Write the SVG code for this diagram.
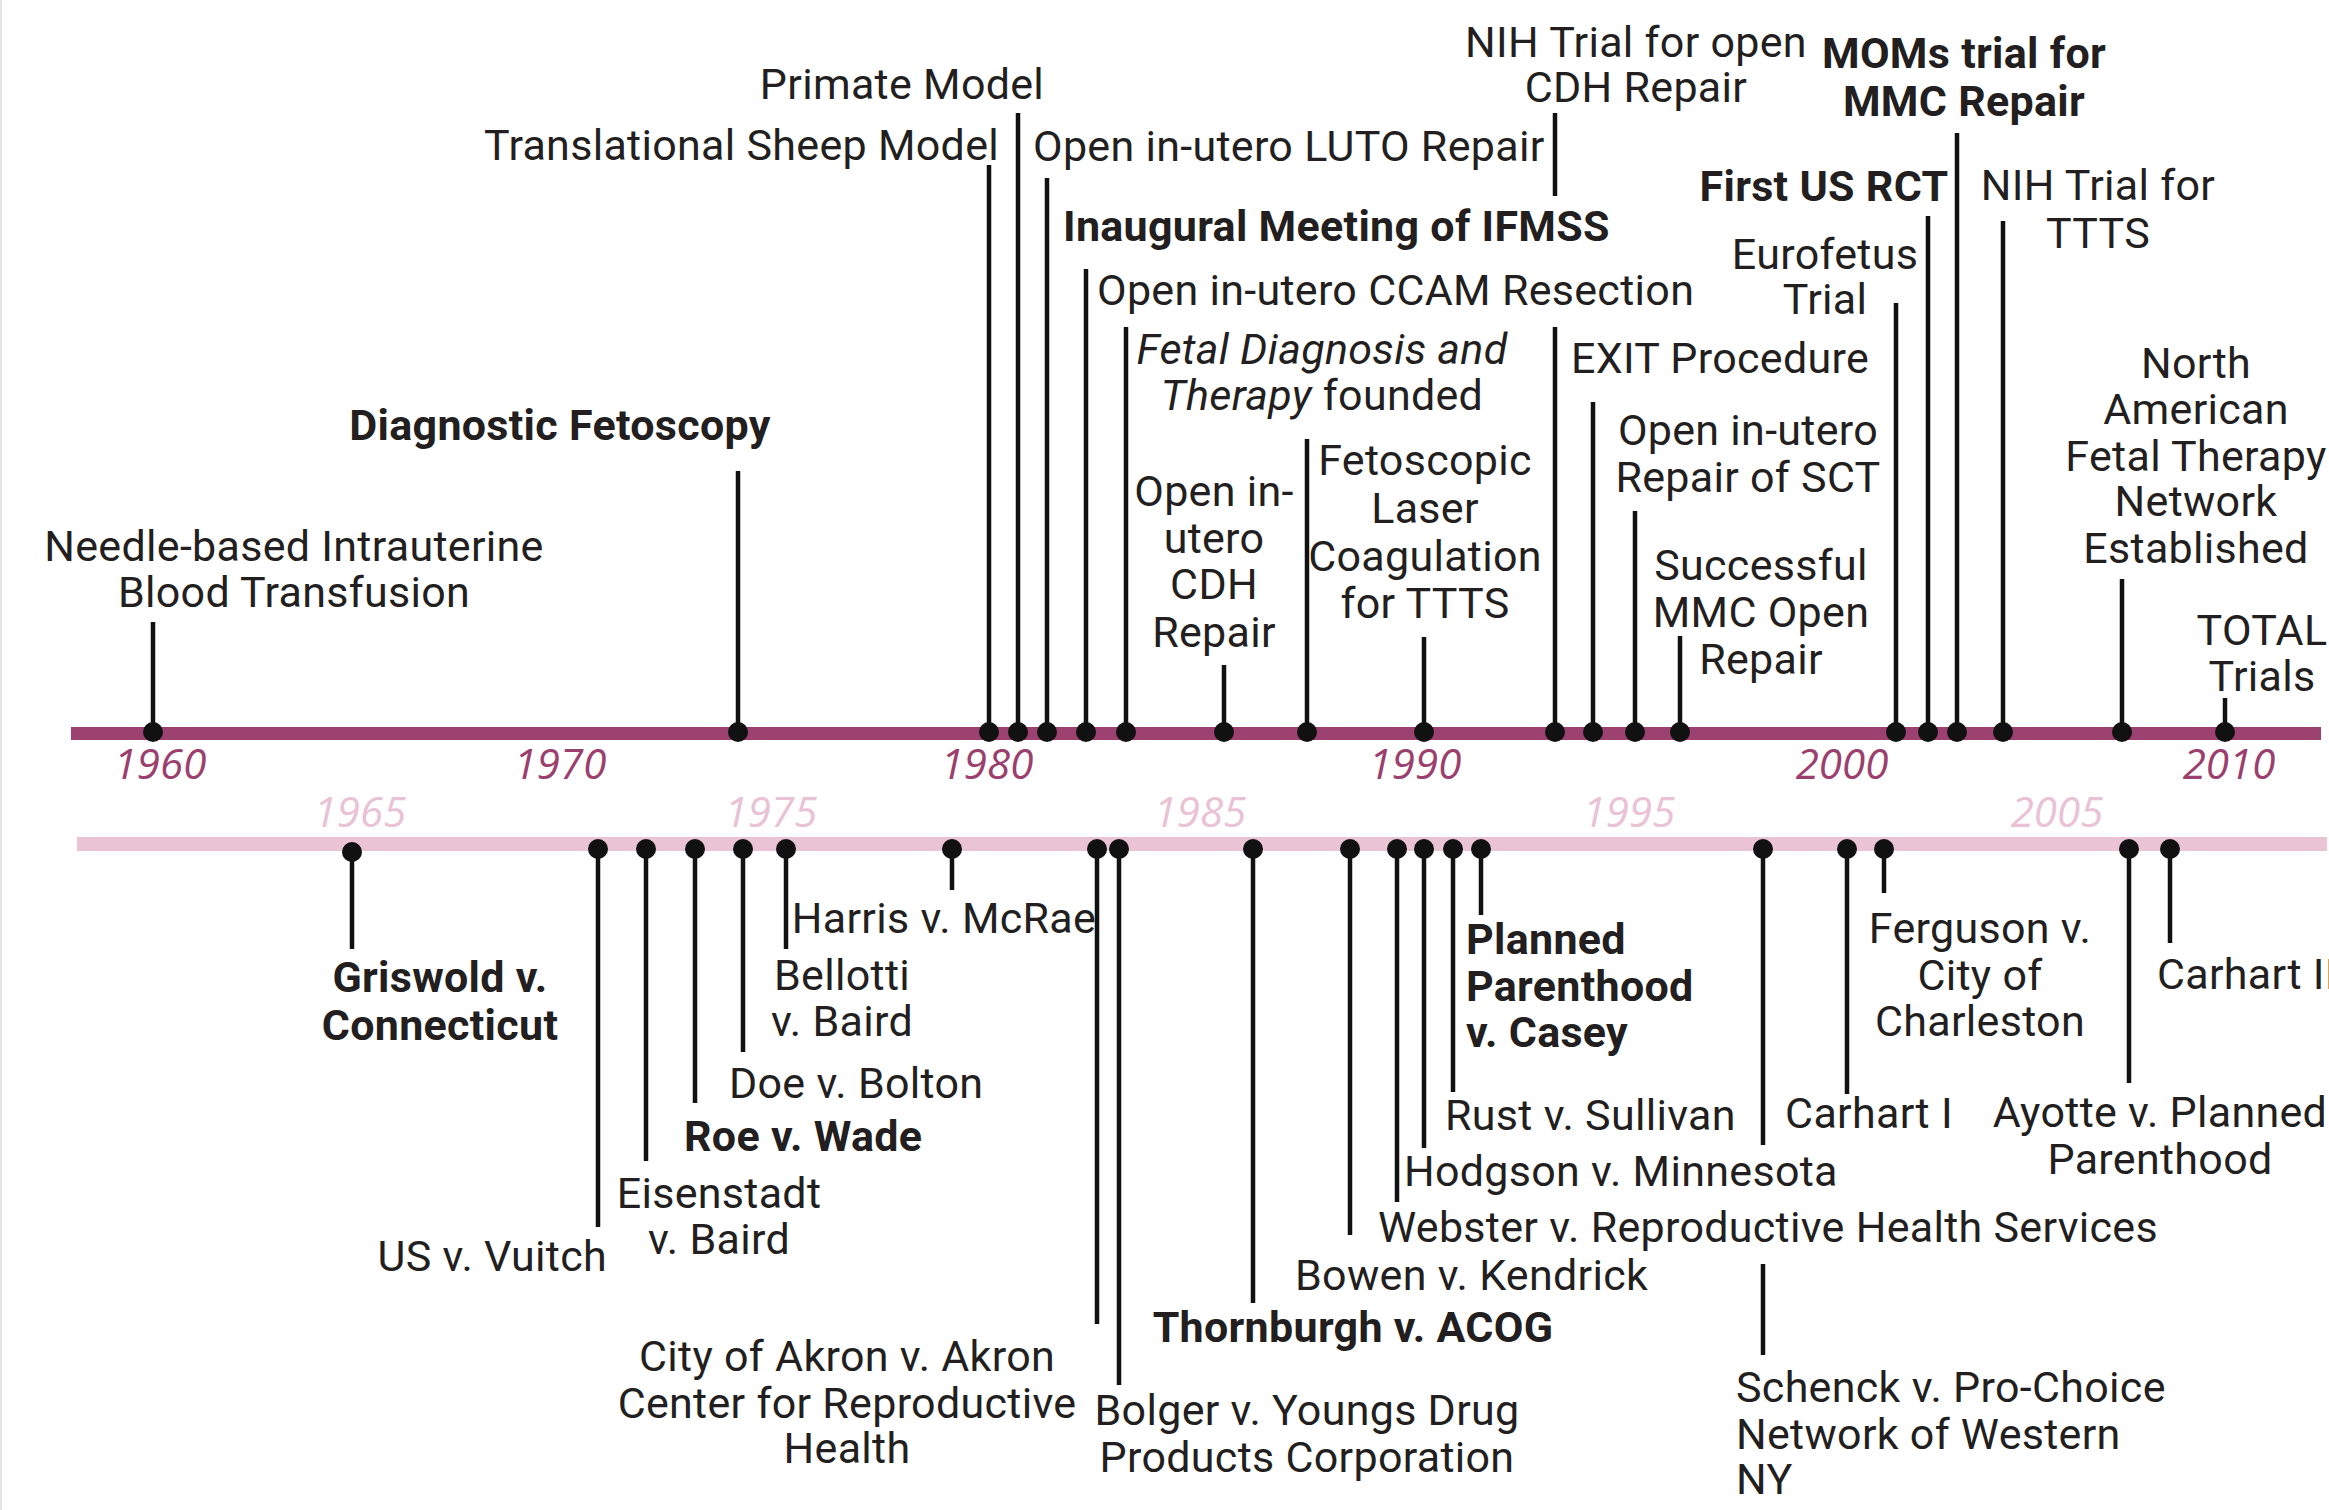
<svg xmlns="http://www.w3.org/2000/svg" width="2329" height="1510" viewBox="0 0 2329 1510">
<style>
text{font-family:Roboto,"Liberation Sans",sans-serif;font-size:43px;letter-spacing:0.3px;fill:#231f20}
.b{font-weight:bold}
.i{font-style:italic}
.m{text-anchor:middle}
.e{text-anchor:end}
.yt,.yb{font-family:"Open Sans",Roboto,sans-serif;font-style:italic;font-size:42px;letter-spacing:0;text-anchor:middle}
.yt{fill:#9b3f6e}
.yb{fill:#eac2d5}
.stem{stroke:#111;stroke-width:4.5;fill:none}
.dot{fill:#111}
</style>
<rect x="0" y="0" width="2329" height="1510" fill="#fff"/>
<line x1="1" y1="0" x2="1" y2="1510" stroke="#e4e4e4" stroke-width="2"/>
<g id="axes">
<rect x="71" y="727" width="2250" height="13" fill="#9c4170"/>
<rect x="77" y="837" width="2250" height="14" fill="#eac3d5"/>
<text class="yt" x="160" y="779">1960</text>
<text class="yt" x="560" y="779">1970</text>
<text class="yt" x="987" y="779">1980</text>
<text class="yt" x="1415" y="779">1990</text>
<text class="yt" x="1842" y="779">2000</text>
<text class="yt" x="2229" y="779">2010</text>
<text class="yb" x="360" y="827">1965</text>
<text class="yb" x="771" y="827">1975</text>
<text class="yb" x="1200" y="827">1985</text>
<text class="yb" x="1629" y="827">1995</text>
<text class="yb" x="2057" y="827">2005</text>
</g>
<g id="connectors" class="stem">
<line x1="153" y1="732" x2="153" y2="622"/>
<line x1="738" y1="732" x2="738" y2="471"/>
<line x1="989" y1="732" x2="989" y2="165"/>
<line x1="1018" y1="732" x2="1018" y2="113"/>
<line x1="1047" y1="732" x2="1047" y2="178"/>
<line x1="1086" y1="732" x2="1086" y2="269"/>
<line x1="1126" y1="732" x2="1126" y2="327"/>
<line x1="1224" y1="732" x2="1224" y2="665"/>
<line x1="1307" y1="732" x2="1307" y2="439"/>
<line x1="1424" y1="732" x2="1424" y2="637"/>
<line x1="1555" y1="732" x2="1555" y2="327"/>
<line x1="1555" y1="196" x2="1555" y2="113"/>
<line x1="1593" y1="732" x2="1593" y2="402"/>
<line x1="1635" y1="732" x2="1635" y2="511"/>
<line x1="1680" y1="732" x2="1680" y2="636"/>
<line x1="1896" y1="732" x2="1896" y2="303"/>
<line x1="1928" y1="732" x2="1928" y2="216"/>
<line x1="1957" y1="732" x2="1957" y2="133"/>
<line x1="2003" y1="732" x2="2003" y2="221"/>
<line x1="2122" y1="732" x2="2122" y2="579"/>
<line x1="2225" y1="732" x2="2225" y2="698"/>
<line x1="352" y1="852" x2="352" y2="949"/>
<line x1="598" y1="849" x2="598" y2="1227"/>
<line x1="646" y1="849" x2="646" y2="1161"/>
<line x1="695" y1="849" x2="695" y2="1103"/>
<line x1="743" y1="849" x2="743" y2="1052"/>
<line x1="786" y1="849" x2="786" y2="949"/>
<line x1="952" y1="849" x2="952" y2="890"/>
<line x1="1097" y1="849" x2="1097" y2="1324"/>
<line x1="1119" y1="849" x2="1119" y2="1385"/>
<line x1="1253" y1="849" x2="1253" y2="1303"/>
<line x1="1350" y1="849" x2="1350" y2="1235"/>
<line x1="1397" y1="849" x2="1397" y2="1202"/>
<line x1="1424" y1="849" x2="1424" y2="1148"/>
<line x1="1453" y1="849" x2="1453" y2="1092"/>
<line x1="1481" y1="849" x2="1481" y2="915"/>
<line x1="1763" y1="849" x2="1763" y2="1145"/>
<line x1="1763" y1="1264" x2="1763" y2="1355"/>
<line x1="1847" y1="849" x2="1847" y2="1094"/>
<line x1="1884" y1="849" x2="1884" y2="893"/>
<line x1="2129" y1="849" x2="2129" y2="1083"/>
<line x1="2170" y1="849" x2="2170" y2="943"/>
</g>
<g id="n-needle"><circle class="dot" cx="153" cy="732" r="10"/><text class="m" x="294" y="561">Needle-based Intrauterine</text><text class="m" x="294" y="607">Blood Transfusion</text></g>
<g id="n-fetoscopy"><circle class="dot" cx="738" cy="732" r="10"/><text class="m b" x="560" y="440">Diagnostic Fetoscopy</text></g>
<g id="n-sheep"><circle class="dot" cx="989" cy="732" r="10"/><text class="e" x="999" y="160">Translational Sheep Model</text></g>
<g id="n-primate"><circle class="dot" cx="1018" cy="732" r="10"/><text class="m" x="902" y="99">Primate Model</text></g>
<g id="n-luto"><circle class="dot" cx="1047" cy="732" r="10"/><text x="1033" y="161">Open in-utero LUTO Repair</text></g>
<g id="n-ifmss"><circle class="dot" cx="1086" cy="732" r="10"/><text class="b" x="1063" y="241">Inaugural Meeting of IFMSS</text></g>
<g id="n-ccam"><circle class="dot" cx="1126" cy="732" r="10"/><text x="1097" y="305">Open in-utero CCAM Resection</text></g>
<g id="n-cdh"><circle class="dot" cx="1224" cy="732" r="10"/><text class="m" x="1214" y="506">Open in-</text><text class="m" x="1214" y="553">utero</text><text class="m" x="1214" y="599">CDH</text><text class="m" x="1214" y="647">Repair</text></g>
<g id="n-fdt"><circle class="dot" cx="1307" cy="732" r="10"/><text class="m i" x="1322" y="364">Fetal Diagnosis and</text><text class="m" x="1322" y="410"><tspan class="i">Therapy</tspan> founded</text></g>
<g id="n-laser"><circle class="dot" cx="1424" cy="732" r="10"/><text class="m" x="1425" y="475">Fetoscopic</text><text class="m" x="1425" y="523">Laser</text><text class="m" x="1425" y="571">Coagulation</text><text class="m" x="1425" y="618">for TTTS</text></g>
<g id="n-nihcdh"><circle class="dot" cx="1555" cy="732" r="10"/><text class="m" x="1636" y="57">NIH Trial for open</text><text class="m" x="1636" y="102">CDH Repair</text></g>
<g id="n-exit"><circle class="dot" cx="1593" cy="732" r="10"/><text class="m" x="1720" y="373">EXIT Procedure</text></g>
<g id="n-sct"><circle class="dot" cx="1635" cy="732" r="10"/><text class="m" x="1748" y="445">Open in-utero</text><text class="m" x="1748" y="492">Repair of SCT</text></g>
<g id="n-mmc"><circle class="dot" cx="1680" cy="732" r="10"/><text class="m" x="1761" y="580">Successful</text><text class="m" x="1761" y="627">MMC Open</text><text class="m" x="1761" y="674">Repair</text></g>
<g id="n-eurofetus"><circle class="dot" cx="1896" cy="732" r="10"/><text class="m" x="1825" y="269">Eurofetus</text><text class="m" x="1825" y="314">Trial</text></g>
<g id="n-rct"><circle class="dot" cx="1928" cy="732" r="10"/><text class="m b" x="1824" y="201">First US RCT</text></g>
<g id="n-moms"><circle class="dot" cx="1957" cy="732" r="10"/><text class="m b" x="1964" y="68">MOMs trial for</text><text class="m b" x="1964" y="116">MMC Repair</text></g>
<g id="n-nihttts"><circle class="dot" cx="2003" cy="732" r="10"/><text class="m" x="2098" y="200">NIH Trial for</text><text class="m" x="2098" y="248">TTTS</text></g>
<g id="n-naftnet"><circle class="dot" cx="2122" cy="732" r="10"/><text class="m" x="2196" y="378">North</text><text class="m" x="2196" y="424">American</text><text class="m" x="2196" y="471">Fetal Therapy</text><text class="m" x="2196" y="516">Network</text><text class="m" x="2196" y="563">Established</text></g>
<g id="n-total"><circle class="dot" cx="2225" cy="732" r="10"/><text class="m" x="2262" y="645">TOTAL</text><text class="m" x="2262" y="691">Trials</text></g>
<g id="c-griswold"><circle class="dot" cx="352" cy="852" r="10"/><text class="m b" x="440" y="992">Griswold v.</text><text class="m b" x="440" y="1040">Connecticut</text></g>
<g id="c-vuitch"><circle class="dot" cx="598" cy="849" r="10"/><text class="e" x="607" y="1271">US v. Vuitch</text></g>
<g id="c-eisenstadt"><circle class="dot" cx="646" cy="849" r="10"/><text class="m" x="719" y="1208">Eisenstadt</text><text class="m" x="719" y="1254">v. Baird</text></g>
<g id="c-roe"><circle class="dot" cx="695" cy="849" r="10"/><text class="b" x="684" y="1151">Roe v. Wade</text></g>
<g id="c-doe"><circle class="dot" cx="743" cy="849" r="10"/><text x="729" y="1098">Doe v. Bolton</text></g>
<g id="c-bellotti"><circle class="dot" cx="786" cy="849" r="10"/><text class="m" x="842" y="990">Bellotti</text><text class="m" x="842" y="1036">v. Baird</text></g>
<g id="c-harris"><circle class="dot" cx="952" cy="849" r="10"/><text class="m" x="944" y="933">Harris v. McRae</text></g>
<g id="c-akron"><circle class="dot" cx="1097" cy="849" r="10"/><text class="m" x="847" y="1371">City of Akron v. Akron</text><text class="m" x="847" y="1418">Center for Reproductive</text><text class="m" x="847" y="1463">Health</text></g>
<g id="c-bolger"><circle class="dot" cx="1119" cy="849" r="10"/><text class="m" x="1307" y="1425">Bolger v. Youngs Drug</text><text class="m" x="1307" y="1472">Products Corporation</text></g>
<g id="c-thornburgh"><circle class="dot" cx="1253" cy="849" r="10"/><text class="m b" x="1353" y="1342">Thornburgh v. ACOG</text></g>
<g id="c-bowen"><circle class="dot" cx="1350" cy="849" r="10"/><text x="1295" y="1290">Bowen v. Kendrick</text></g>
<g id="c-webster"><circle class="dot" cx="1397" cy="849" r="10"/><text x="1378" y="1242">Webster v. Reproductive Health Services</text></g>
<g id="c-hodgson"><circle class="dot" cx="1424" cy="849" r="10"/><text x="1404" y="1186">Hodgson v. Minnesota</text></g>
<g id="c-rust"><circle class="dot" cx="1453" cy="849" r="10"/><text x="1445" y="1130">Rust v. Sullivan</text></g>
<g id="c-casey"><circle class="dot" cx="1481" cy="849" r="10"/><text class="b" x="1466" y="954">Planned</text><text class="b" x="1466" y="1001">Parenthood</text><text class="b" x="1466" y="1047">v. Casey</text></g>
<g id="c-schenck"><circle class="dot" cx="1763" cy="849" r="10"/><text x="1736" y="1402">Schenck v. Pro-Choice</text><text x="1736" y="1449">Network of Western</text><text x="1736" y="1494">NY</text></g>
<g id="c-carhart1"><circle class="dot" cx="1847" cy="849" r="10"/><text class="m" x="1869" y="1128">Carhart I</text></g>
<g id="c-ferguson"><circle class="dot" cx="1884" cy="849" r="10"/><text class="m" x="1980" y="943">Ferguson v.</text><text class="m" x="1980" y="990">City of</text><text class="m" x="1980" y="1036">Charleston</text></g>
<g id="c-ayotte"><circle class="dot" cx="2129" cy="849" r="10"/><text class="m" x="2160" y="1127">Ayotte v. Planned</text><text class="m" x="2160" y="1174">Parenthood</text></g>
<g id="c-carhart2"><circle class="dot" cx="2170" cy="849" r="10"/><text x="2157" y="989">Carhart II</text></g>
</svg>
